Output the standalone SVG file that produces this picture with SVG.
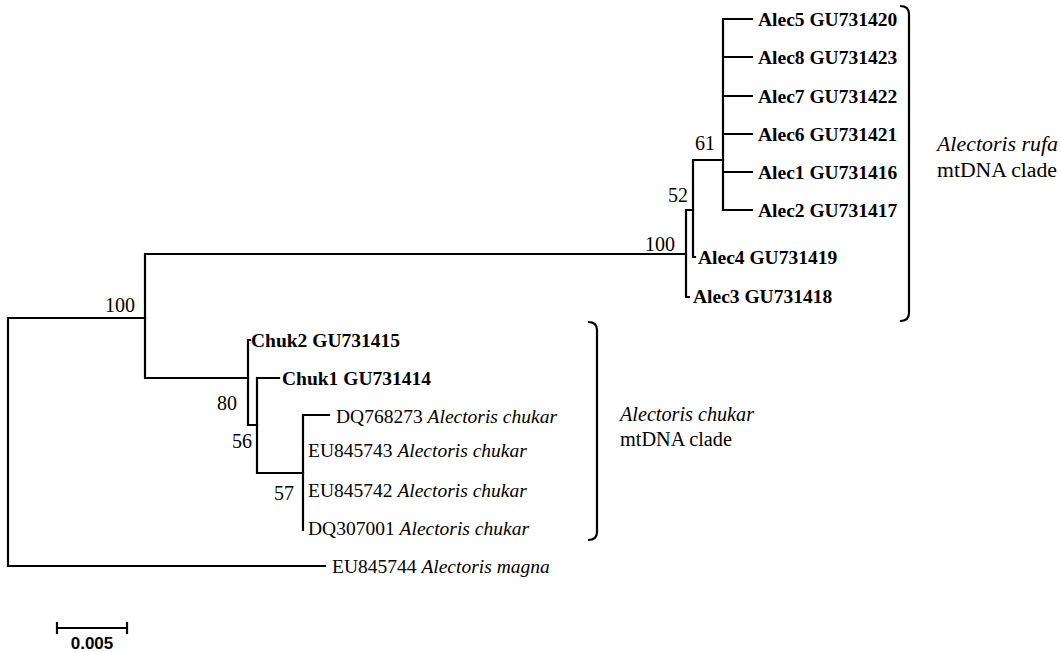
<svg xmlns="http://www.w3.org/2000/svg" width="1061" height="652" viewBox="0 0 1061 652">
<style>
.br{fill:none;stroke:#000;stroke-width:2.2;stroke-linecap:square}
.bk{fill:none;stroke:#000;stroke-width:2.2}
text{font-family:"Liberation Serif","Times New Roman",serif;font-size:19.5px;fill:#000}
.b{font-weight:bold}
.i{font-style:italic}
.bs{font-size:20px}
.cl{font-size:20px}
.sc{font-family:"Liberation Sans",Arial,sans-serif;font-weight:bold;font-size:17px}
</style>
<rect width="1061" height="652" fill="#fff"/>
<g id="connectors">
<path class="br" d="M8,318V566M8,318H145M8,566H325"/>
<path class="br" d="M145,254V378M145,254H686M145,378H248"/>
<path class="br" d="M686,210V297M686,297H689M686,210H693"/>
<path class="br" d="M693,160V257M693,257H695M693,160H723"/>
<path class="br" d="M723,19V210M723,19H752M723,57H752M723,96H752M723,134H752M723,172H752M723,210H752"/>
<path class="br" d="M248,340V425M248,340H250M248,425H257"/>
<path class="br" d="M257,378V473M257,378H279M257,473H303"/>
<path class="br" d="M303,415V530M303,415H329"/>
</g>
<g id="n-alec5"><text class="b" x="758" y="26">Alec5 GU731420</text></g>
<g id="n-alec8"><text class="b" x="758" y="64">Alec8 GU731423</text></g>
<g id="n-alec7"><text class="b" x="758" y="103">Alec7 GU731422</text></g>
<g id="n-alec6"><text class="b" x="758" y="141">Alec6 GU731421</text></g>
<g id="n-alec1"><text class="b" x="758" y="179">Alec1 GU731416</text></g>
<g id="n-alec2"><text class="b" x="758" y="217">Alec2 GU731417</text></g>
<g id="n-alec4"><text class="b" x="698" y="264">Alec4 GU731419</text></g>
<g id="n-alec3"><text class="b" x="693" y="303">Alec3 GU731418</text></g>
<g id="n-chuk2"><text class="b" x="251" y="347">Chuk2 GU731415</text></g>
<g id="n-chuk1"><text class="b" x="282" y="385">Chuk1 GU731414</text></g>
<g id="n-dq768273"><text x="336" y="423">DQ768273 <tspan class="i">Alectoris chukar</tspan></text></g>
<g id="n-eu845743"><text x="308" y="457">EU845743 <tspan class="i">Alectoris chukar</tspan></text></g>
<g id="n-eu845742"><text x="308" y="497">EU845742 <tspan class="i">Alectoris chukar</tspan></text></g>
<g id="n-dq307001"><text x="308" y="535">DQ307001 <tspan class="i">Alectoris chukar</tspan></text></g>
<g id="n-eu845744"><text x="332" y="573">EU845744 <tspan class="i">Alectoris magna</tspan></text></g>
<g id="bootstrap">
<text class="bs" x="105" y="312">100</text>
<text class="bs" x="645" y="251">100</text>
<text class="bs" x="668" y="202">52</text>
<text class="bs" x="695" y="150">61</text>
<text class="bs" x="217" y="410">80</text>
<text class="bs" x="232" y="448">56</text>
<text class="bs" x="274" y="500">57</text>
</g>
<g id="clade-rufa">
<path class="bk" d="M900,6Q909,6 909,14V313Q909,321 900,321"/>
<text class="cl i" x="937" y="151" textLength="121" lengthAdjust="spacingAndGlyphs">Alectoris rufa</text>
<text class="cl" x="937" y="177" textLength="120" lengthAdjust="spacingAndGlyphs">mtDNA clade</text>
</g>
<g id="clade-chukar">
<path class="bk" d="M588,322Q597,322 597,330V532Q597,540 588,540"/>
<text class="cl i" x="620" y="421" textLength="134" lengthAdjust="spacingAndGlyphs">Alectoris chukar</text>
<text class="cl" x="620" y="446" textLength="112" lengthAdjust="spacingAndGlyphs">mtDNA clade</text>
</g>
<g id="scalebar">
<path class="br" d="M57,628H127M57,623V633M127,623V633"/>
<text class="sc" x="92" y="649" text-anchor="middle">0.005</text>
</g>
</svg>
